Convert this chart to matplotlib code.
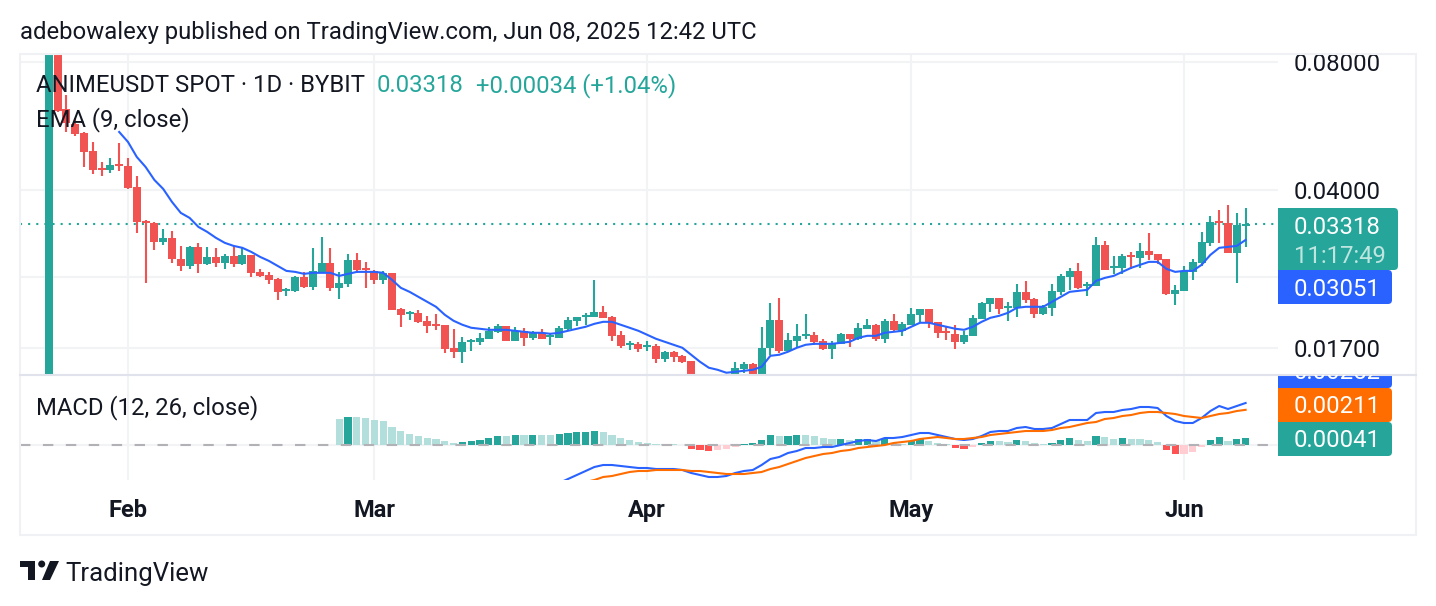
import matplotlib
matplotlib.use('Agg')
import matplotlib.pyplot as plt
import matplotlib.dates as mdates
from matplotlib.patches import FancyBboxPatch, Rectangle, Polygon, Circle
from matplotlib.transforms import Bbox, TransformedBbox
import numpy as np
import pandas as pd

plt.rcParams['font.family'] = ['Roboto', 'DejaVu Sans']

# daily OHLC, in 1e-5 USDT, from 2025-01-23
opens = [1000,12000,6200,5717,5445,4940,4506,4457,4604,4555,
         4065,3382,3346,3019,3085,2754,2651,2938,2680,2784,
         2695,2799,2680,2814,2566,2525,2471,2316,2316,2498,
         2367,2553,2695,2354,2405,2739,2623,2580,2458,2553,
         2101,2045,2056,1969,1937,1927,1701,1665,1757,1757,
         1786,1855,1916,1767,1865,1796,1845,1805,1796,1886,
         1969,2012,2012,2067,2012,1825,1729,1738,1710,1720,
         1603,1665,1629,1586,1446,1350,1400,1330,1440,1519,
         1560,1431,1701,1979,1674,1767,1815,1825,1767,1692,
         1738,1835,1786,1886,1927,1786,1969,1865,1927,2034,
         2101,1958,1865,1835,1757,1815,1990,2158,2230,2112,
         2112,2303,2218,2045,2112,2303,2498,2580,2379,2379,
         2970,2623,2623,2814,2768,2875,2829,2754,2278,2316,
         2566,2695,3003,3382,3346,2844,3284]
highs = [13000,13000,6688,5906,5475,5187,4655,4756,5159,4756,
         4315,3401,3364,3239,3204,2954,2954,3003,2938,2923,
         2829,2954,2923,2814,2609,2566,2484,2354,2511,2566,
         2923,3102,2923,2566,2829,2844,2709,2594,2580,2553,
         2112,2078,2090,2023,2045,1927,1886,1805,1786,1845,
         1906,1937,1916,1906,1896,1865,1886,1845,1916,2012,
         2012,2056,2458,2135,2023,1865,1767,1757,1767,1738,
         1674,1674,1638,1586,1460,1450,1450,1460,1577,1577,
         1569,1906,2170,2230,1845,1937,2045,1855,1786,1767,
         1845,1835,1948,1990,1937,1990,2045,1958,2112,2101,
         2101,1958,1906,1927,1865,2034,2182,2230,2230,2182,
         2405,2444,2230,2147,2405,2539,2623,2695,2431,3102,
         3035,2799,2829,2860,3003,3170,2829,2754,2392,2651,
         2754,3187,3475,3590,3688,3532,3629]
lows = [950,6100,5475,5358,4530,4362,4315,4385,4433,4022,
        3170,2418,2891,2970,2695,2580,2609,2553,2666,2637,
        2609,2637,2666,2498,2498,2405,2206,2254,2303,2354,
        2328,2553,2316,2218,2367,2553,2354,2405,2405,2090,
        1906,1979,1948,1845,1875,1656,1612,1569,1674,1729,
        1786,1845,1767,1767,1720,1776,1786,1729,1796,1875,
        1916,1927,2012,2001,1767,1701,1683,1665,1674,1569,
        1577,1577,1569,1440,1320,1300,1280,1300,1400,1486,
        1450,1400,1638,1656,1665,1701,1786,1729,1683,1603,
        1738,1710,1776,1886,1767,1748,1855,1815,1927,1948,
        1896,1796,1776,1692,1738,1815,1990,2067,2045,1969,
        2012,2170,2001,2034,2023,2266,2328,2341,2254,2379,
        2594,2539,2539,2609,2623,2739,2680,2266,2147,2316,
        2458,2651,2954,3003,2844,2418,2938]
closes = [12000,6134,5748,5416,4913,4457,4457,4579,4555,4044,
          3364,3346,3019,3085,2754,2651,2938,2680,2784,2695,
          2799,2680,2814,2553,2511,2458,2303,2341,2498,2367,
          2580,2695,2354,2418,2739,2594,2594,2458,2553,2090,
          2034,2067,1958,1916,1916,1692,1665,1757,1776,1796,
          1865,1916,1767,1865,1796,1845,1786,1825,1896,1979,
          2012,2034,2067,2001,1815,1720,1748,1692,1729,1603,
          1665,1620,1577,1446,1350,1400,1330,1450,1527,1560,
          1460,1701,1979,1674,1776,1815,1835,1757,1692,1748,
          1835,1786,1896,1927,1786,1969,1875,1937,2045,2101,
          1948,1845,1845,1757,1825,2001,2170,2230,2101,2135,
          2303,2206,2045,2124,2316,2511,2580,2354,2405,2970,
          2594,2651,2799,2784,2875,2814,2739,2278,2328,2580,
          2709,3019,3364,3346,2844,3310,3318]

# EMA 9, starts on candle 8
ema = [5475,5187,4782,4530,4222,4022,3748,3532,3438,3274,3187,3085,
       3003,2954,2923,2860,2784,2724,2651,2580,2566,2539,2553,2553,
       2553,2511,2539,2566,2566,2566,2553,2458,2354,2303,2242,2182,
       2124,2034,1969,1927,1896,1886,1875,1875,1875,1865,1855,1845,
       1845,1835,1845,1865,1886,1906,1937,1958,1958,1927,1896,1865,
       1825,1786,1757,1729,1701,1638,1577,1527,1510,1486,1494,1502,
       1510,1535,1629,1638,1665,1701,1729,1738,1738,1738,1748,1757,
       1796,1815,1815,1845,1855,1865,1906,1948,1948,1927,1906,1886,
       1875,1906,1958,2001,2023,2056,2112,2124,2124,2124,2182,2242,
       2303,2316,2328,2444,2484,2511,2566,2623,2666,2709,2709,2609,
       2566,2580,2580,2666,2814,2923,2938,2954,3051]

# MACD histogram starts on candle 33, also in 1e-5
hist = [156,168,168,162,150,144,108,84,66,54,
        42,36,24,12,18,24,30,42,54,54,
        60,60,60,60,60,66,72,78,78,84,
        78,60,42,30,18,12,6,6,6,3,
        -24,-30,-36,-30,-24,-12,6,12,30,60,
        54,54,60,60,54,42,36,36,30,36,
        36,24,36,12,6,24,36,24,12,6,
        -18,-24,-12,12,24,24,18,30,24,12,
        6,12,30,42,30,24,54,48,36,42,
        36,36,30,18,-30,-54,-54,-42,-12,30,
        48,24,36,41]
hist_strong = [0,1,0,0,0,0,0,0,0,0,
               0,0,0,0,1,1,1,1,1,0,
               1,0,1,0,0,1,1,1,1,1,
               0,0,0,0,0,0,0,0,0,0,
               1,1,1,0,0,0,1,1,1,1,
               0,1,1,0,0,0,0,1,0,1,
               1,0,1,0,0,1,1,0,0,0,
               1,1,0,1,1,0,0,1,0,0,
               0,1,1,1,0,0,1,0,0,1,
               0,0,0,0,1,1,0,0,0,1,
               1,0,1,1]
# MACD line starts on candle 58, signal on candle 61
macd = [-228,-204,-180,-156,-132,-120,-120,-126,-132,-138,-138,-144,-144,-144,
        -150,-168,-180,-192,-192,-186,-168,-156,-150,-120,-84,-72,-48,-36,
        -18,-18,-12,-12,0,12,24,30,24,42,42,48,60,72,72,60,48,36,30,36,54,
        78,84,84,102,108,96,96,102,126,150,150,150,192,198,198,210,216,228,
        228,222,174,144,132,132,162,204,234,216,234,252]
signal = [-222,-210,-192,-186,-174,-162,-156,-156,-150,-150,-150,-150,-156,
          -156,-162,-168,-174,-174,-174,-168,-162,-144,-132,-114,-96,-78,-66,
          -54,-48,-36,-30,-18,-12,-6,0,12,18,24,36,42,48,42,36,36,42,48,60,66,
          72,78,84,84,84,90,102,108,120,132,138,156,162,174,180,192,198,198,
          192,186,174,168,162,174,186,192,204,211]

y_ticks = [0.08, 0.04, 0.017]
y_grid = [0.08, 0.04, 0.025, 0.017]

GREEN = '#26a69a'
RED = '#f15353'
BLUE = '#2962ff'
ORANGE = '#ff6d00'
GRID = '#f2f3f5'
TEXT = '#131722'
FS = 17.2

W, H = 1436, 606
dates = pd.date_range('2025-01-23', periods=len(closes))
x = mdates.date2num(dates)
o, h, l, c = [np.array(v) / 1e5 for v in (opens, highs, lows, closes)]


def pane(top, bottom):
    return fig.add_axes([20 / W, 1 - bottom / H, 1258 / W, (bottom - top) / H])


fig = plt.figure(figsize=(W / 100, H / 100), dpi=100)
ax = pane(54, 375)
ax2 = pane(375, 480)

# price pane
ax.set_yscale('log', base=2)
ax.set_ylim(0.01468, 0.08351)
ax.set_xlim(x[0] - 3.27, x[0] + 139.68)
ax.set_yticks(y_ticks)
ax.set_yticklabels(['%.5f' % v for v in y_ticks])
ax.yaxis.set_minor_locator(plt.NullLocator())
ax.yaxis.tick_right()
for v in y_grid:
    ax.axhline(v, color=GRID, lw=1.5, zorder=0)

colors = [GREEN if a >= b else RED for a, b in zip(c, o)]
ax.vlines(x, l, h, color=colors, lw=1.5, zorder=2)
ax.bar(x, np.abs(c - o), bottom=np.minimum(o, c), width=0.9, color=colors, zorder=3)
ax.plot(x[8:], np.array(ema) / 1e5, color=BLUE, lw=1.5, zorder=4)
ax.axhline(c[-1], color=GREEN, lw=1.5, ls=(0, (1, 2.9)), zorder=1)

# MACD pane
ax2.set_ylim(-0.0021, 0.0042)
ax2.set_xlim(ax.get_xlim())
ax2.set_yticks([])
hist_v = np.array(hist) / 1e5
hist_c = []
for v, s in zip(hist_v, hist_strong):
    if v >= 0:
        hist_c.append(GREEN if s else '#b2dfdb')
    else:
        hist_c.append('#ff5252' if s else '#ffcdd2')
ax2.bar(x[33:], hist_v, width=0.8, color=hist_c, zorder=2)
ax2.axhline(0, color=GRID, lw=1.5, zorder=1)
ax2.axhline(0, color='#b2b2b6', lw=1.5, ls=(0, (5, 6)), zorder=3)
ax2.plot(x[58:], np.array(macd) / 1e5, color=BLUE, lw=1.5, zorder=4)
ax2.plot(x[61:], np.array(signal) / 1e5, color=ORANGE, lw=1.5, zorder=5)

ax2.xaxis.set_major_locator(mdates.MonthLocator())
ax2.xaxis.set_major_formatter(mdates.DateFormatter('%b'))
ax.xaxis.set_major_locator(mdates.MonthLocator())
ax.tick_params(axis='x', labelbottom=False, length=0)
ax.tick_params(axis='y', length=0, pad=11.5, labelsize=FS, labelcolor=TEXT)
ax2.tick_params(axis='x', length=0, pad=14, labelsize=17, labelcolor=TEXT)
for lab in ax2.get_xticklabels():
    lab.set_fontweight('bold')
for a in (ax, ax2):
    a.grid(axis='x', color=GRID, lw=1.5, zorder=0)
    a.set_axisbelow(True)
    for s in a.spines.values():
        s.set_visible(False)

# overlay in image pixels for frame, tags and texts
ov = fig.add_axes([0, 0, 1, 1], zorder=10)
ov.set_xlim(0, W)
ov.set_ylim(H, 0)
ov.axis('off')
ov.patch.set_alpha(0)

ov.add_patch(Rectangle((20, 54), 1396, 481, fill=False, ec='#f0f1f4', lw=1.5))
ov.plot([20, 1416], [375, 375], color='#e0e3eb', lw=1.5)

clip = TransformedBbox(Bbox([[1278, 375], [1436, 606]]), ov.transData)


def tag(top, bottom, right, color, clipped=False):
    r = FancyBboxPatch((1278, top), right - 1278, bottom - top,
                       boxstyle='round,pad=0,rounding_size=4', fc=color, ec='none')
    sq = Rectangle((1278, top), 10, bottom - top, fc=color, ec='none')
    ov.add_patch(r)
    ov.add_patch(sq)
    if clipped:
        r.set_clip_box(clip)
        sq.set_clip_box(clip)


def label(px, py, s, color=TEXT, **kw):
    kw.setdefault('fontsize', FS)
    return ov.text(px, py, s, color=color, va='center', ha='left', **kw)


tag(208, 270, 1398, GREEN)
tag(270, 304, 1392, BLUE)
tag(354, 388, 1392, BLUE, clipped=True)
tag(388, 422, 1392, ORANGE)
tag(422, 456, 1392, GREEN)

label(1294, 227.5, '%.5f' % c[-1], 'white')
label(1294, 256.5, '11:17:49', '#bfe5e1')
label(1294, 289.5, '%.5f' % (ema[-1] / 1e5), 'white')
t = label(1294, 372.5, '%.5f' % (macd[-1] / 1e5), 'white')
t.set_clip_box(clip)
t.set_clip_on(True)
label(1294, 406.5, '%.5f' % (signal[-1] / 1e5), 'white')
label(1294, 440.5, '%.5f' % (hist[-1] / 1e5), 'white')

change = (closes[-1] - 3284) / 1e5
label(20, 32, 'adebowalexy published on TradingView.com, Jun 08, 2025 12:42 UTC')
label(36, 86, 'ANIMEUSDT SPOT · 1D · BYBIT')
label(377, 86, '%.5f' % c[-1], GREEN)
label(476, 86, '+%.5f (+1.04%%)' % change, GREEN)
label(36, 120, 'EMA (9, close)')
label(36, 408, 'MACD (12, 26, close)')

# TradingView mark and name
mark = '#131722'
ov.add_patch(Polygon([(20, 561), (35, 561), (35, 580), (28, 580), (28, 567), (20, 567)], fc=mark, ec='none'))
ov.add_patch(Circle((41.7, 564), 3.5, fc=mark, ec='none'))
ov.add_patch(Polygon([(50, 561), (59, 561), (50, 580), (42, 580)], fc=mark, ec='none'))
label(65, 574, 'TradingView', fontsize=18.5)

fig.savefig('out.png', dpi=100)
